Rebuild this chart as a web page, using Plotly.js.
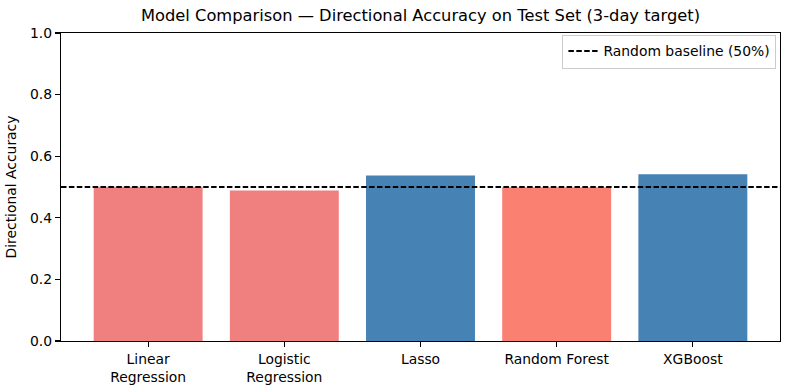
<!DOCTYPE html>
<html>
<head>
<meta charset="utf-8">
<script src="https://cdn.plot.ly/plotly-3.0.1.min.js"></script>
<style>html,body{margin:0;padding:0;background:#fff;}#chart{width:790px;height:390px;}</style>
</head>
<body>
<div id="chart"></div>
<script>
const models = ["Linear<br>Regression", "Logistic<br>Regression", "Lasso", "Random Forest", "XGBoost"];
const accuracy = [0.501, 0.489, 0.537, 0.499, 0.541];
const barColors = ["#F08080", "#F08080", "#4682B4", "#FA8072", "#4682B4"];
const baselineValue = 0.5;
const baselineLabel = "Random baseline (50%)";
const yTicks = [0, 0.2, 0.4, 0.6, 0.8, 1.0];
const yTickText = ["0.0", "0.2", "0.4", "0.6", "0.8", "1.0"];

const positions = models.map((m, i) => i);
const xRange = [-0.64, models.length - 1 + 0.64];

const font = {family: "DejaVu Sans, sans-serif", size: 13.9, color: "#000"};

const traces = [
  {
    type: "bar",
    x: positions,
    y: accuracy,
    width: 0.8,
    marker: {color: barColors},
    showlegend: false,
    hoverinfo: "skip"
  },
  {
    type: "scatter",
    mode: "lines",
    x: xRange,
    y: [baselineValue, baselineValue],
    name: baselineLabel,
    line: {color: "#000", width: 2, dash: "5.5px,2.4px"},
    showlegend: true
  }
];

const layout = {
  width: 790,
  height: 390,
  margin: {l: 61, r: 10, t: 33, b: 49},
  paper_bgcolor: "#fff",
  plot_bgcolor: "#fff",
  font: font,
  title: {
    text: "Model Comparison — Directional Accuracy on Test Set (3-day target)",
    font: {family: "DejaVu Sans, sans-serif", size: 16.3, color: "#000"},
    x: 0.5, xref: "paper", xanchor: "center",
    y: 1, yref: "container", yanchor: "top", pad: {t: 10}
  },
  xaxis: {
    range: xRange,
    tickvals: positions,
    ticktext: models,
    ticks: "outside", ticklen: 5, tickwidth: 1.1, tickcolor: "#000",
    showline: true, linecolor: "#000", linewidth: 1.1, mirror: true,
    showgrid: false, zeroline: false,
    tickfont: font
  },
  yaxis: {
    range: [0, 1],
    tickvals: yTicks,
    ticktext: yTickText,
    ticks: "outside", ticklen: 5, tickwidth: 1.1, tickcolor: "#000",
    showline: true, linecolor: "#000", linewidth: 1.1, mirror: true,
    showgrid: false, zeroline: false,
    tickfont: font,
    title: {text: "Directional Accuracy", font: font, standoff: 10}
  },
  legend: {
    x: 0.995, y: 0.995, xanchor: "right", yanchor: "top",
    bgcolor: "rgba(255,255,255,0.8)", bordercolor: "#cccccc", borderwidth: 1,
    font: font, itemwidth: 30, tracegroupgap: 0
  },
  bargap: 0.2
};

Plotly.newPlot("chart", traces, layout, {displayModeBar: false, staticPlot: true});
</script>
</body>
</html>
